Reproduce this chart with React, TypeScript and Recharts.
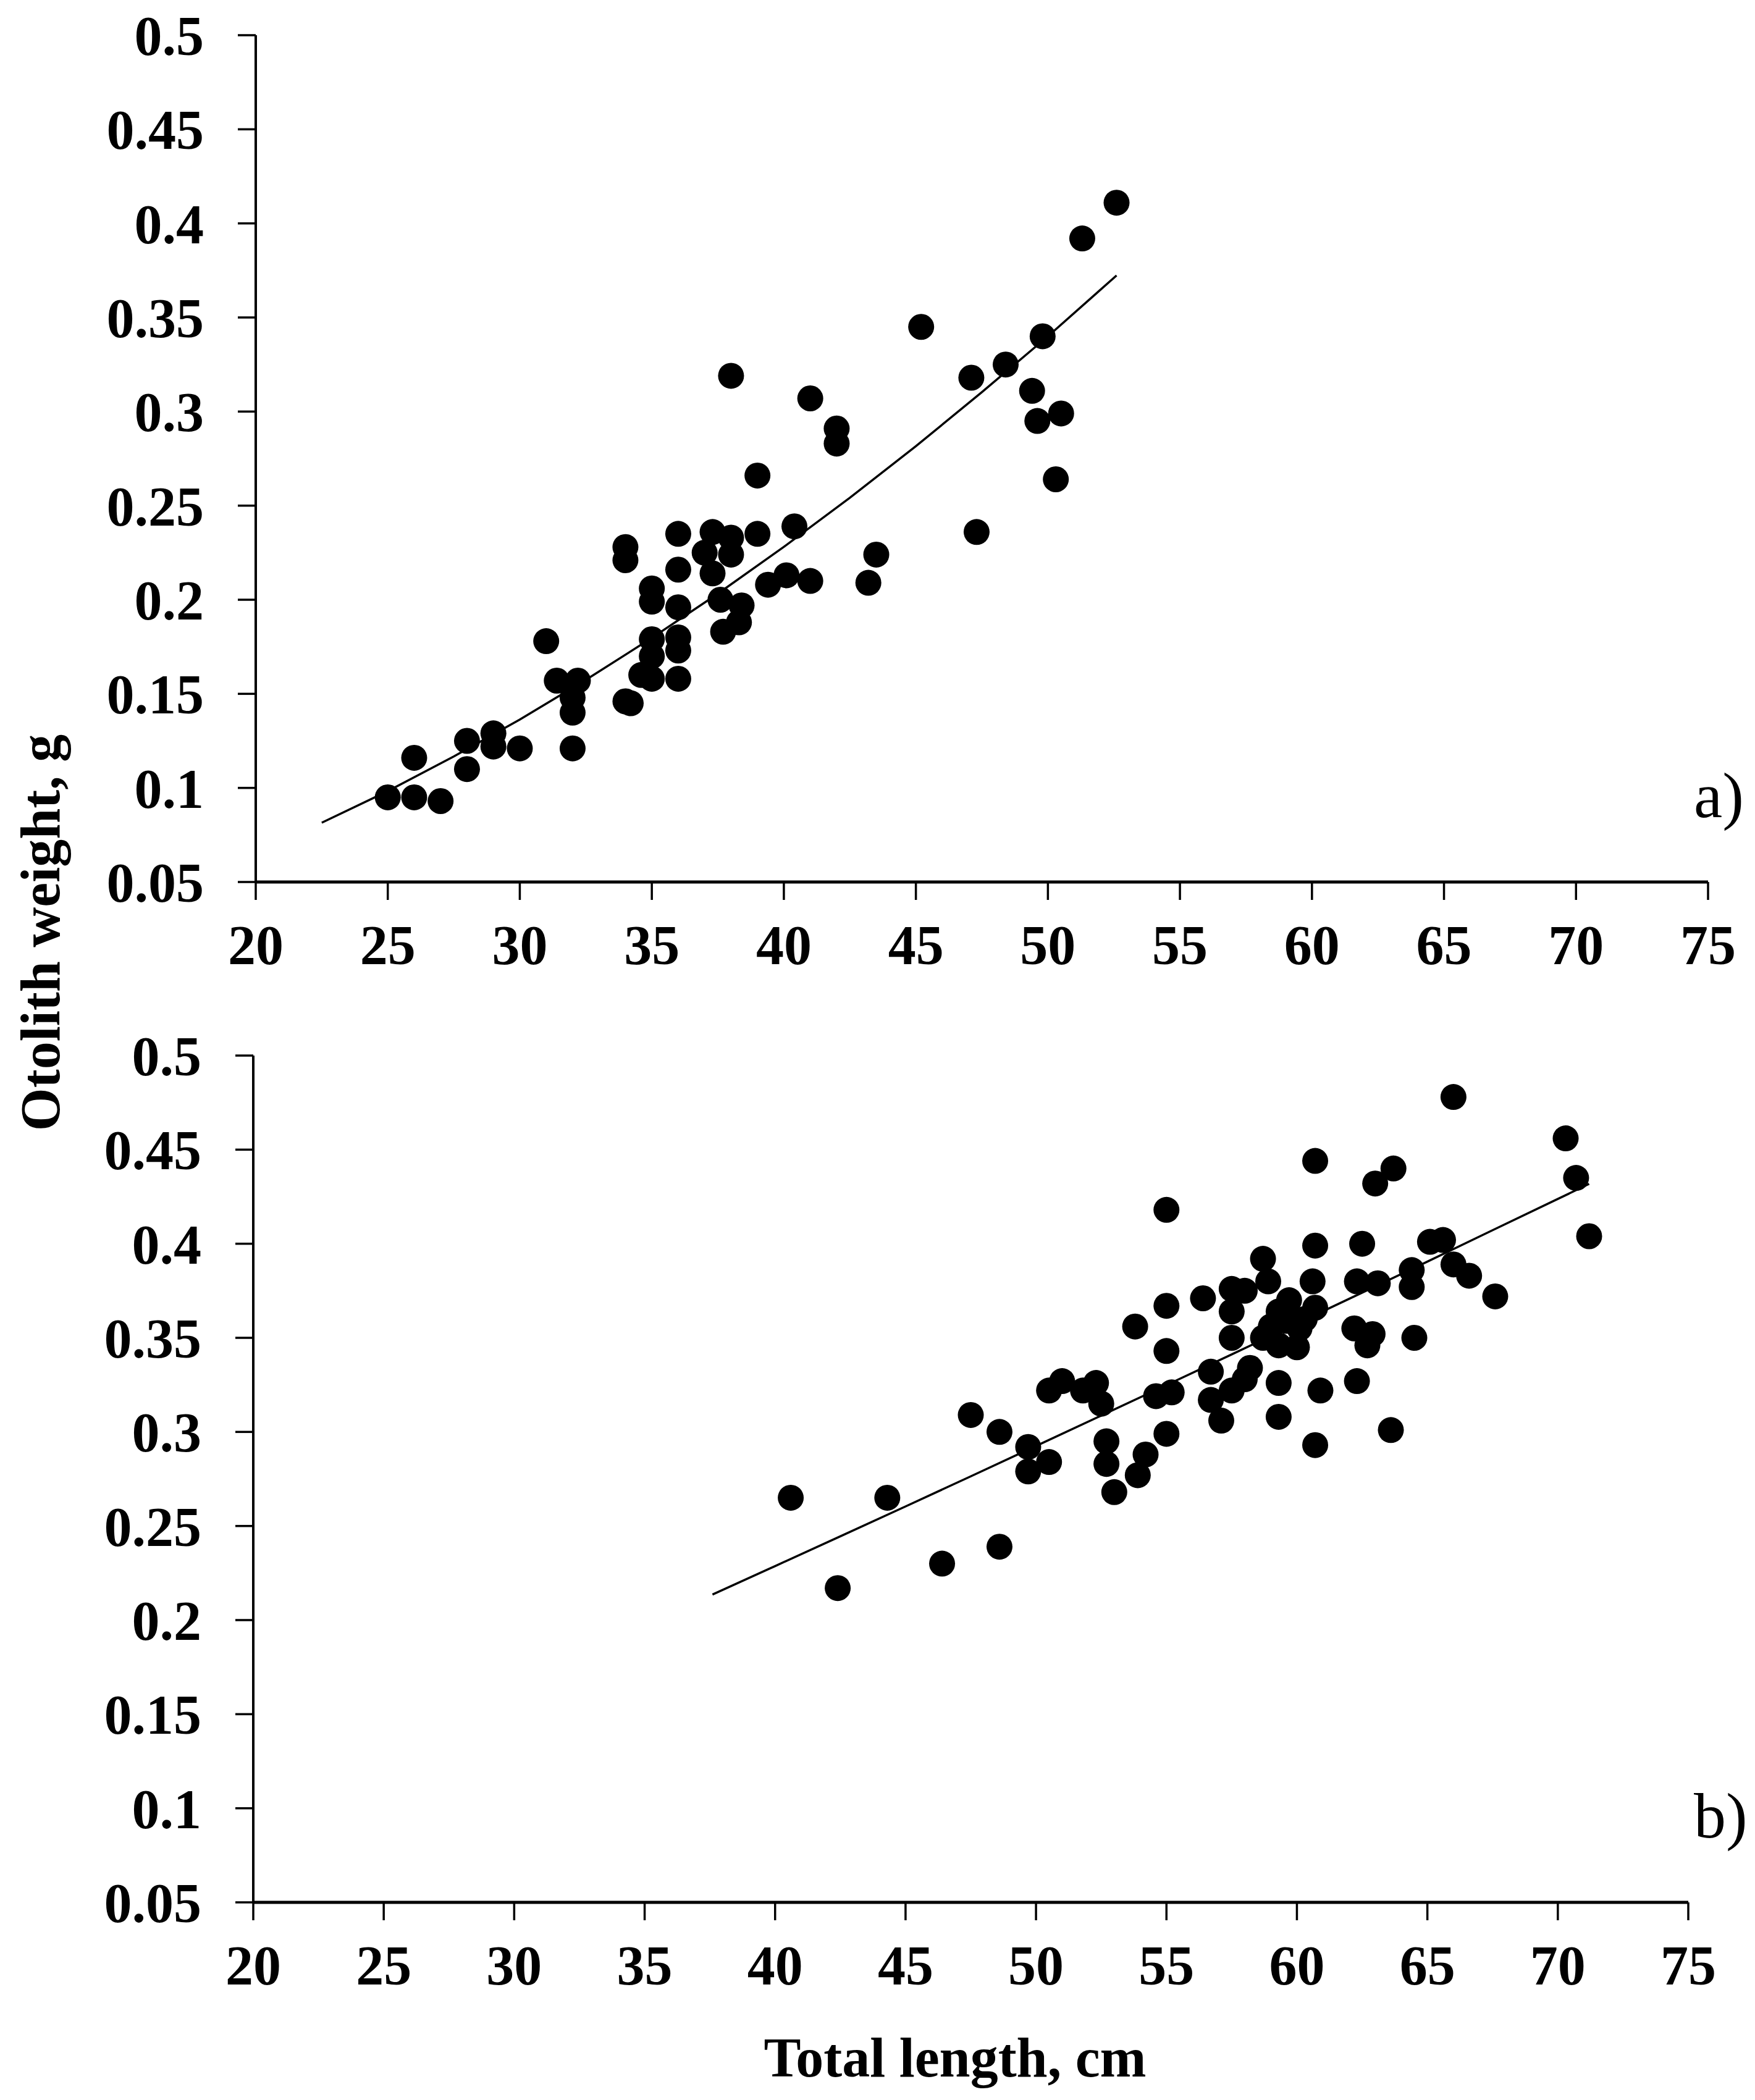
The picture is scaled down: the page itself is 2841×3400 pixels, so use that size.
import React from 'react'
import { ScatterChart, Scatter, XAxis, YAxis } from 'recharts'

// panel a) otolith weight vs total length
const lengthA = [25, 26, 26, 27, 28, 28, 29, 29, 30, 31, 31.4, 32.2, 32, 32, 32, 34, 34.2, 34, 34, 35, 35, 35, 35, 34.6, 35, 36, 36, 36, 36, 36, 36, 37, 37.3, 37.3, 38, 38, 38, 39, 39, 37.6, 38.4, 37.7, 38.3, 39.4, 40.1, 40.4, 41, 41, 42, 42, 43.2, 43.5, 45.2, 47.1, 48.4, 49.8, 49.4, 49.6, 50.5, 50.3, 47.3, 51.3, 52.6]
const weightA = [0.095, 0.095, 0.116, 0.093, 0.125, 0.11, 0.129, 0.122, 0.121, 0.178, 0.157, 0.157, 0.148, 0.14, 0.121, 0.146, 0.145, 0.228, 0.221, 0.206, 0.199, 0.179, 0.17, 0.16, 0.158, 0.196, 0.18, 0.173, 0.158, 0.235, 0.216, 0.225, 0.236, 0.214, 0.233, 0.224, 0.319, 0.266, 0.235, 0.2, 0.197, 0.183, 0.188, 0.208, 0.213, 0.239, 0.307, 0.21, 0.291, 0.283, 0.209, 0.224, 0.345, 0.318, 0.325, 0.34, 0.311, 0.295, 0.299, 0.264, 0.236, 0.392, 0.411]

// trend curve a)
const fitLengthA = [22.5, 25, 27.5, 30, 32.5, 35, 37.5, 40, 42.5, 45, 47.5, 50, 52.6]
const fitWeightA = [0.0815, 0.0983, 0.1167, 0.1363, 0.1574, 0.1797, 0.2032, 0.2281, 0.2542, 0.2816, 0.3103, 0.34, 0.3723]

// panel b)
const lengthB = [40.6, 42.4, 44.3, 46.4, 47.5, 48.6, 48.6, 49.7, 49.7, 50.5, 50.5, 51, 51.8, 52.3, 52.5, 52.7, 52.7, 53, 53.8, 53.9, 54.2, 54.6, 55, 55, 55, 55.2, 55, 56.4, 56.7, 56.7, 57.1, 57.5, 58, 57.5, 57.5, 57.5, 58, 58.2, 58.7, 58.9, 58.7, 59, 59.3, 59.3, 59.3, 59.3, 59.6, 59.7, 60, 60.1, 60.3, 60.6, 60.7, 60.7, 60.7, 60.7, 60.9, 62.2, 62.3, 62.3, 62.5, 62.7, 62.9, 63, 63.1, 63.6, 63.7, 64.4, 64.4, 64.5, 65.1, 65.6, 66, 66, 66.6, 67.6, 70.3, 70.7, 71.2]
const weightB = [0.265, 0.217, 0.265, 0.23, 0.309, 0.3, 0.239, 0.292, 0.279, 0.284, 0.322, 0.327, 0.322, 0.326, 0.315, 0.295, 0.283, 0.268, 0.356, 0.277, 0.288, 0.319, 0.418, 0.367, 0.343, 0.321, 0.299, 0.371, 0.332, 0.317, 0.306, 0.376, 0.375, 0.364, 0.35, 0.322, 0.328, 0.334, 0.392, 0.38, 0.35, 0.356, 0.364, 0.346, 0.326, 0.308, 0.359, 0.37, 0.345, 0.355, 0.36, 0.38, 0.366, 0.399, 0.444, 0.293, 0.322, 0.355, 0.38, 0.327, 0.4, 0.346, 0.352, 0.432, 0.379, 0.301, 0.44, 0.386, 0.377, 0.35, 0.401, 0.402, 0.478, 0.389, 0.383, 0.372, 0.456, 0.435, 0.404]

const fitLengthB = [37.6, 40, 42.5, 45, 47.5, 50, 52.5, 55, 57.5, 60, 62.5, 65, 67.5, 70, 71.2]
const fitWeightB = [0.2136, 0.2287, 0.2445, 0.2604, 0.2764, 0.2925, 0.3087, 0.3249, 0.3412, 0.3576, 0.374, 0.3905, 0.4072, 0.4238, 0.4318]

const xTicks = [20, 25, 30, 35, 40, 45, 50, 55, 60, 65, 70, 75]
const yTicks = [0.05, 0.1, 0.15, 0.2, 0.25, 0.3, 0.35, 0.4, 0.45, 0.5]

const zip = (xs: number[], ys: number[]) => xs.map((x, i) => ({ x, y: ys[i] }))

const FONT = '"Liberation Serif", "Times New Roman", serif'
const tickStyle = { fill: '#000', fontSize: 90, fontWeight: 700, fontFamily: FONT }

const Dot = (p: any) => <circle cx={p.cx} cy={p.cy} r={21} fill="#000" />
const NoDot = () => <g />

function Panel({ pts, fit, margin, height }: { pts: { x: number; y: number }[]; fit: { x: number; y: number }[]; margin: any; height: number }) {
  return (
    <ScatterChart width={2841} height={height} margin={margin}>
      <XAxis
        type="number"
        dataKey="x"
        domain={[20, 75]}
        ticks={xTicks}
        tick={tickStyle}
        tickSize={29}
        tickMargin={40}
        height={200}
        axisLine={{ stroke: '#000', strokeWidth: 5 }}
        tickLine={{ stroke: '#000', strokeWidth: 3.5 }}
      />
      <YAxis
        type="number"
        dataKey="y"
        domain={[0.05, 0.5]}
        ticks={yTicks}
        tick={tickStyle}
        tickSize={29}
        tickMargin={55}
        width={300}
        axisLine={{ stroke: '#000', strokeWidth: 4 }}
        tickLine={{ stroke: '#000', strokeWidth: 3.5 }}
      />
      <Scatter data={fit} line={{ stroke: '#000', strokeWidth: 3.5 }} lineType="joint" shape={NoDot} isAnimationActive={false} />
      <Scatter data={pts} shape={Dot} isAnimationActive={false} />
    </ScatterChart>
  )
}

export default function App() {
  const label = { position: 'absolute' as const, fontFamily: FONT, color: '#000', lineHeight: 1, whiteSpace: 'nowrap' as const }
  return (
    <div style={{ position: 'absolute', left: 0, top: 0, width: 2841, height: 3400, background: '#fff' }}>
      <div style={{ position: 'absolute', left: 0, top: 0 }}>
        <Panel pts={zip(lengthA, weightA)} fit={zip(fitLengthA, fitWeightA)} margin={{ top: 57, right: 76, bottom: 0, left: 114 }} height={1628} />
      </div>
      <div style={{ position: 'absolute', left: 0, top: 1600 }}>
        <Panel pts={zip(lengthB, weightB)} fit={zip(fitLengthB, fitWeightB)} margin={{ top: 109, right: 108, bottom: 0, left: 110 }} height={1680} />
      </div>
      <div style={{ ...label, left: 66, top: 1510, fontSize: 90, fontWeight: 700, transform: 'translate(-50%, -50%) rotate(-90deg)' }}>Otolith weight, g</div>
      <div style={{ ...label, left: 1546, top: 3287, fontSize: 90, fontWeight: 700, transform: 'translateX(-50%)' }}>Total length, cm</div>
      <div style={{ ...label, left: 2742, top: 1236, fontSize: 104 }}>a)</div>
      <div style={{ ...label, left: 2742, top: 2888, fontSize: 104 }}>b)</div>
    </div>
  )
}
